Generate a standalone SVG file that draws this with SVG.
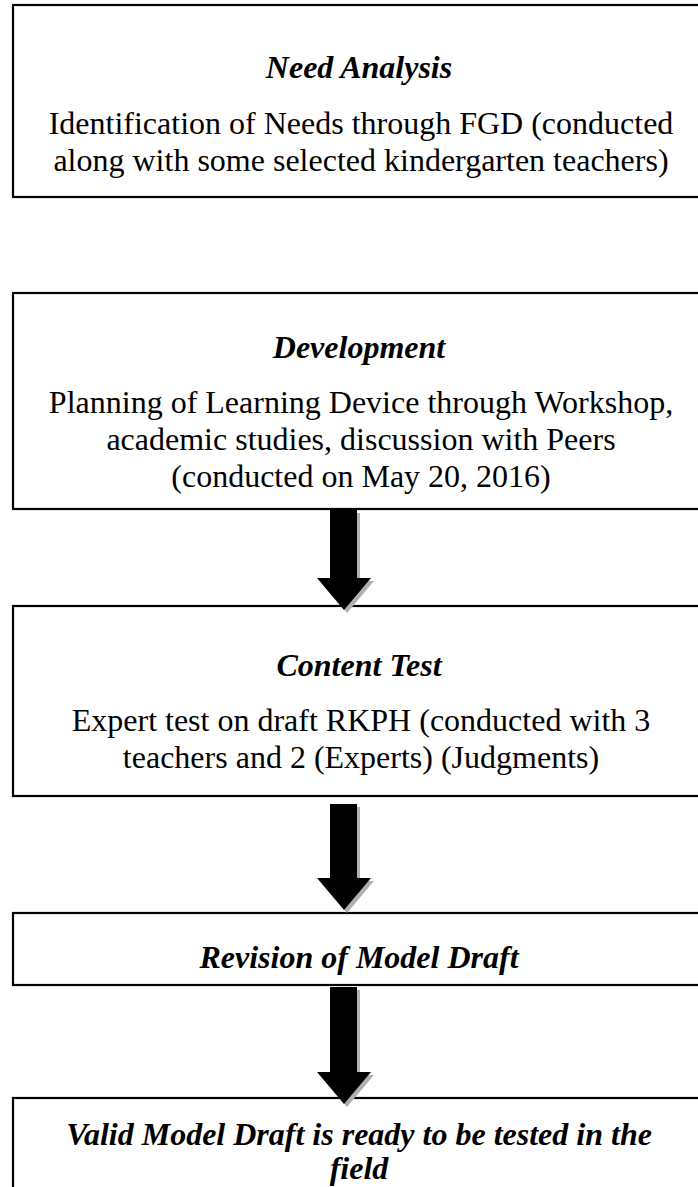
<svg xmlns="http://www.w3.org/2000/svg" width="698" height="1187" viewBox="0 0 698 1187">
  <defs>
    <style>
      .box { fill: #ffffff; stroke: #000000; stroke-width: 2.2; }
      .title { font-family: "Liberation Serif", "Times New Roman", serif; font-size: 32px; font-weight: bold; font-style: italic; fill: #000; text-anchor: middle; }
      .body { font-family: "Liberation Serif", "Times New Roman", serif; font-size: 32px; fill: #000; text-anchor: middle; }
      .arrow { fill: #000000; }
      .shadow { fill: #b0b0b0; }
    </style>
  </defs>
  <rect width="698" height="1187" fill="#ffffff"/>

  <g id="need-analysis">
    <rect class="box" x="13" y="5" width="700" height="192"/>
    <text class="title" x="359" y="78">Need Analysis</text>
    <text class="body" x="361" y="134">Identification of Needs through FGD (conducted</text>
    <text class="body" x="361" y="171">along with some selected kindergarten teachers)</text>
  </g>

  <g id="development">
    <rect class="box" x="13" y="293" width="700" height="216"/>
    <text class="title" x="359" y="358">Development</text>
    <text class="body" x="361" y="413">Planning of Learning Device through Workshop,</text>
    <text class="body" x="361" y="450">academic studies, discussion with Peers</text>
    <text class="body" x="361" y="487">(conducted on May 20, 2016)</text>
  </g>

  <g id="content-test">
    <rect class="box" x="13" y="606" width="700" height="190"/>
    <text class="title" x="359" y="676">Content Test</text>
    <text class="body" x="361" y="731">Expert test on draft RKPH (conducted with 3</text>
    <text class="body" x="361" y="768">teachers and 2 (Experts) (Judgments)</text>
  </g>

  <g id="revision">
    <rect class="box" x="13" y="913" width="700" height="72"/>
    <text class="title" x="359" y="968">Revision of Model Draft</text>
  </g>

  <g id="valid-draft">
    <rect class="box" x="13" y="1098" width="700" height="120"/>
    <text class="title" x="359" y="1145">Valid Model Draft is ready to be tested in the</text>
    <text class="title" x="359" y="1179">field</text>
  </g>

  <!-- block arrows, drawn last so their tips overlap the next box's top edge;
       each has a grey drop shadow offset by (3,3) -->
  <g id="connectors">
    <g id="arrow-development-content">
      <path class="shadow" d="M333,513 H360 V581 H374 L347,613 L320,581 H333 Z"/>
      <path class="arrow" d="M330,510 H357 V578 H371 L344,610 L317,578 H330 Z"/>
    </g>
    <g id="arrow-content-revision">
      <path class="shadow" d="M333,807 H360 V881 H374 L347,913 L320,881 H333 Z"/>
      <path class="arrow" d="M330,804 H357 V878 H371 L344,910 L317,878 H330 Z"/>
    </g>
    <g id="arrow-revision-valid">
      <path class="shadow" d="M333,990 H360 V1075 H374 L347,1107 L320,1075 H333 Z"/>
      <path class="arrow" d="M330,987 H357 V1072 H371 L344,1104 L317,1072 H330 Z"/>
    </g>
  </g>
</svg>
